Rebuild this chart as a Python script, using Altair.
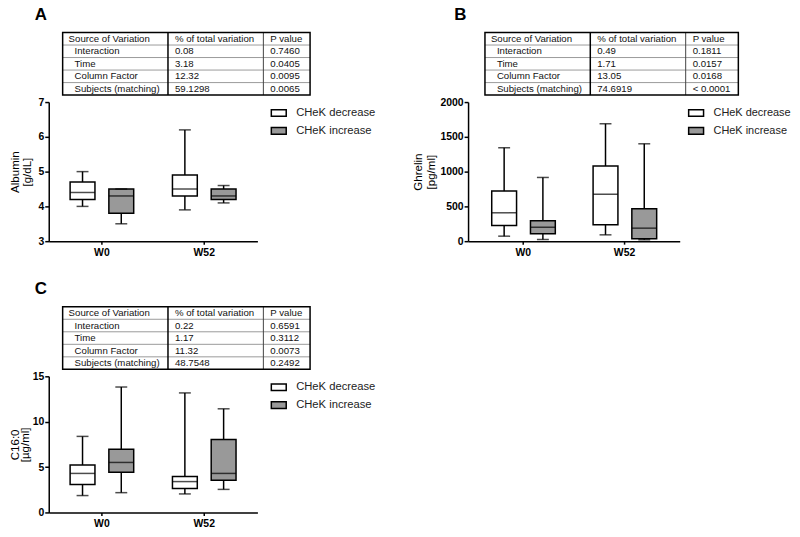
import altair as alt
import pandas as pd

FONT = "Liberation Sans"

# ---------------- data ----------------
times = ["W0", "W0", "W52", "W52"]
groups = ["CHeK decrease", "CHeK increase", "CHeK decrease", "CHeK increase"]
group_names = ["CHeK decrease", "CHeK increase"]
group_colors = ["#ffffff", "#999999"]

alb_min = [4.0, 3.5, 3.9, 4.1]
alb_q1 = [4.2, 3.8, 4.3, 4.2]
alb_med = [4.4, 4.3, 4.5, 4.3]
alb_q3 = [4.7, 4.5, 4.9, 4.5]
alb_max = [5.0, 4.5, 6.2, 4.6]

ghr_min = [72, 24, 91, 20]
ghr_q1 = [225, 105, 235, 34]
ghr_med = [408, 201, 676, 187]
ghr_q3 = [720, 293, 1079, 465]
ghr_max = [1343, 916, 1688, 1400]

c16_min = [1.86, 2.18, 2.04, 2.54]
c16_q1 = [3.08, 4.44, 2.65, 3.54]
c16_med = [4.30, 5.51, 3.40, 4.30]
c16_q3 = [5.23, 6.95, 3.97, 8.05]
c16_max = [8.38, 13.82, 13.17, 11.42]

sources = ["Interaction", "Time", "Column Factor", "Subjects (matching)"]
headers = ["Source of Variation", "% of total variation", "P value"]
pct_A = ["0.08", "3.18", "12.32", "59.1298"]
pval_A = ["0.7460", "0.0405", "0.0095", "0.0065"]
pct_B = ["0.49", "1.71", "13.05", "74.6919"]
pval_B = ["0.1811", "0.0157", "0.0168", "< 0.0001"]
pct_C = ["0.22", "1.17", "11.32", "48.7548"]
pval_C = ["0.6591", "0.3112", "0.0073", "0.2492"]

# ---------------- layout constants ----------------
ROW_H = 12.6
TABLE_H = ROW_H * 5
NOVIEW = alt.ViewBackground(stroke="transparent", fill="transparent")


def box_panel(vmin, q1, med, q3, vmax, ydomain, yvalues, title_lines, width,
              height, pad_outer, title_pad, title_lh, legend_x, legend_fs):
    df = pd.DataFrame(dict(time=times, group=groups, lo=vmin, q1=q1,
                           med=med, q3=q3, hi=vmax))
    xaxis = alt.Axis(title=None, labelAngle=0, labelFontWeight="bold",
                     labelFontSize=10.5, labelFont=FONT, tickSize=3,
                     tickWidth=1.5, tickColor="black", domainColor="black",
                     domainWidth=1.5, labelPadding=3, labelColor="black")
    yaxis = alt.Axis(values=yvalues, format="d", labelFontWeight="bold",
                     labelFontSize=10.5, labelFont=FONT, tickSize=4,
                     tickWidth=1.5, tickColor="black", domainColor="black",
                     domainWidth=1.5, labelPadding=1, grid=False,
                     titleFont=FONT, titleFontSize=11.6,
                     titleFontWeight="normal", titleLineHeight=title_lh,
                     titlePadding=title_pad, labelColor="black",
                     titleColor="black")
    yscale = alt.Scale(domain=ydomain, nice=False, zero=False)
    x = alt.X("time:N", scale=alt.Scale(paddingInner=0.37, paddingOuter=pad_outer),
              axis=xaxis)
    xo = alt.XOffset("group:N", scale=alt.Scale(paddingInner=0.359, paddingOuter=0.0115))

    def Y(field):
        return alt.Y(field, scale=yscale, axis=yaxis, title=title_lines)

    base = alt.Chart(df).encode(x=x, xOffset=xo)
    whisker = base.mark_rule(color="black", strokeWidth=1.5).encode(
        y=Y("lo:Q"), y2="hi:Q")
    box = base.mark_bar(stroke="black", strokeWidth=1.5).encode(
        y=Y("q1:Q"), y2="q3:Q",
        fill=alt.Fill("group:N",
                      scale=alt.Scale(domain=group_names, range=group_colors),
                      legend=alt.Legend(title=None, orient="none",
                                        legendX=legend_x, legendY=2.5,
                                        symbolType="M-1,-0.45H1V0.45H-1Z",
                                        symbolSize=225,
                                        symbolStrokeColor="black",
                                        symbolStrokeWidth=1.5,
                                        labelFont=FONT, labelFontSize=legend_fs,
                                        labelOffset=9, rowPadding=3,
                                        padding=0, labelColor="#222222",
                                        labelLimit=200)))
    median = base.mark_tick(color="black", thickness=1.5, size=25).encode(y=Y("med:Q"))
    cap_lo = base.mark_tick(color="black", thickness=1.5, size=12).encode(y=Y("lo:Q"))
    cap_hi = base.mark_tick(color="black", thickness=1.5, size=12).encode(y=Y("hi:Q"))
    return alt.layer(whisker, box, median, cap_lo, cap_hi).properties(
        width=width, height=height, view=NOVIEW)


def table_panel(pct, pval, col_widths, offset_x, chart_w, chart_h, table_top,
                letter, letter_dy):
    c0 = offset_x
    c1 = c0 + col_widths[0]
    c2 = c1 + col_widths[1]
    c3 = c2 + col_widths[2]
    texts = []
    for h, cx in zip(headers, [c0 + 6, c1 + 7, c2 + 7]):
        texts.append(dict(x=cx, y=table_top + 0.5 * ROW_H, t=h))
    for i in range(4):
        yc = table_top + (i + 1.5) * ROW_H
        texts.append(dict(x=c0 + 12, y=yc, t=sources[i]))
        texts.append(dict(x=c1 + 7, y=yc, t=pct[i]))
        texts.append(dict(x=c2 + 7, y=yc, t=pval[i]))
    tdf = pd.DataFrame(texts)
    hl = pd.DataFrame(dict(x=[c0] * 4, x2=[c3] * 4,
                           y=[table_top + k * ROW_H for k in range(1, 5)]))
    vthick = pd.DataFrame(dict(x=[c1], y=[table_top], y2=[table_top + TABLE_H]))
    vthin = pd.DataFrame(dict(x=[c2], y=[table_top], y2=[table_top + TABLE_H]))
    border = pd.DataFrame(dict(x=[c0], x2=[c3], y=[table_top], y2=[table_top + TABLE_H]))

    xs = alt.Scale(domain=[0, chart_w], nice=False, zero=False)
    ys = alt.Scale(domain=[0, chart_h], reverse=True, nice=False, zero=False)
    X = lambda f: alt.X(f, scale=xs, axis=None)
    Yy = lambda f: alt.Y(f, scale=ys, axis=None)

    hlines = alt.Chart(hl).mark_rule(color="#9a9a9a", strokeWidth=1).encode(
        x=X("x:Q"), x2="x2:Q", y=Yy("y:Q"))
    v1 = alt.Chart(vthick).mark_rule(color="black", strokeWidth=1.5).encode(
        x=X("x:Q"), y=Yy("y:Q"), y2="y2:Q")
    v2 = alt.Chart(vthin).mark_rule(color="#444444", strokeWidth=1).encode(
        x=X("x:Q"), y=Yy("y:Q"), y2="y2:Q")
    rect = alt.Chart(border).mark_rect(fillOpacity=0, stroke="black",
                                       strokeWidth=1.5).encode(
        x=X("x:Q"), x2="x2:Q", y=Yy("y:Q"), y2="y2:Q")
    txt = alt.Chart(tdf).mark_text(align="left", baseline="middle", font=FONT,
                                   fontSize=9.7, color="#111111").encode(
        x=X("x:Q"), y=Yy("y:Q"), text="t:N")
    return alt.layer(hlines, v1, v2, rect, txt).properties(
        width=chart_w, height=chart_h, view=NOVIEW,
        title=alt.TitleParams(letter, anchor="start", fontSize=17,
                              fontWeight="bold", font=FONT, dx=-14,
                              dy=letter_dy, offset=0, baseline="alphabetic",
                              color="black"))


tA = table_panel(pct_A, pval_A, [106, 96, 47], 14, 263, TABLE_H, 0, "A", 5)
tB = table_panel(pct_B, pval_B, [106, 96, 53], 17, 272, TABLE_H, 0, "B", 5)
tC = table_panel(pct_C, pval_C, [106, 96, 47], 14, 263, 122, 59, "C", 63)

pA = box_panel(alb_min, alb_q1, alb_med, alb_q3, alb_max, [3, 7], [3, 4, 5, 6, 7],
               ["Albumin", "[g/dL]"], 210, 140, 0.2045, 5, 13, 223, 11.3)
pB = box_panel(ghr_min, ghr_q1, ghr_med, ghr_q3, ghr_max, [0, 2000],
               [0, 500, 1000, 1500, 2000], ["Ghrelin", "[pg/ml]"], 213, 140,
               0.229, 3, 14, 221, 11)
pC = box_panel(c16_min, c16_q1, c16_med, c16_q3, c16_max, [0, 15], [0, 5, 10, 15],
               ["C16:0", "[µg/ml]"], 210, 137, 0.2045, 2, 10, 223, 11.3)

placeholder = alt.Chart(pd.DataFrame({"v": [0]})).mark_point(opacity=0).encode(
    x=alt.value(0), y=alt.value(0)).properties(width=1, height=1, view=NOVIEW)

chart = alt.concat(tA, tB, pA, pB, tC, placeholder, pC, columns=2,
                   spacing=alt.RowColnumber(row=7, column=159),
                   bounds="flush").resolve_scale(
    fill="independent").resolve_legend(fill="independent").properties(
    padding={"top": -5, "left": 0, "right": 0, "bottom": -3}).configure_view(
    stroke="transparent").configure(font=FONT)

chart.save("out.html", embed_options={"renderer": "svg", "actions": False})
